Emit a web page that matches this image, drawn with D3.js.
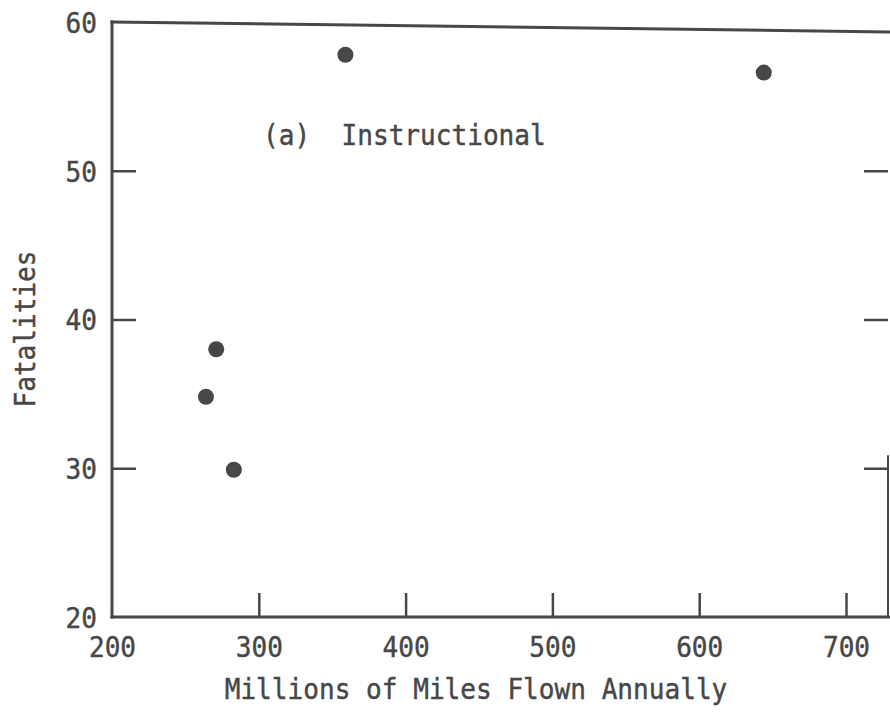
<!DOCTYPE html>
<html>
<head>
<meta charset="utf-8">
<script src="https://cdn.jsdelivr.net/npm/d3@7/dist/d3.min.js"></script>
<style>
  html, body { margin: 0; padding: 0; background: #fff; }
  svg { display: block; }
  text { font-family: "DejaVu Sans Mono", "Liberation Mono", monospace; fill: #474747; stroke: #474747; stroke-width: 0.45px; }
</style>
</head>
<body>
<svg id="chart" width="890" height="712"></svg>
<script>
// Instructional flying: annual miles flown vs. fatalities
const milesFlown = [271, 264, 283, 359, 644];   // millions of miles
const fatalities = [38, 34.8, 29.9, 57.8, 56.6];
const xTicks = [200, 300, 400, 500, 600, 700];
const yTicks = [20, 30, 40, 50, 60];
const panelLabel = "(a)  Instructional";
const xTitle = "Millions of Miles Flown Annually";
const yTitle = "Fatalities";

const ink = "#474747";
const svg = d3.select("#chart");

const x = d3.scaleLinear().domain([200, 700]).range([112, 846]);
const y = d3.scaleLinear().domain([20, 60]).range([617, 22]);
const xRight = 888;

// typewriter-style lettering: tall, slightly condensed
const fontSize = 29;
const squeeze = 0.9;

// frame
const frame = svg.append("g")
  .attr("fill", "none")
  .attr("stroke", ink)
  .attr("stroke-width", 3)
  .attr("stroke-linecap", "square");
frame.append("line")
  .attr("x1", x(200)).attr("y1", y(60))
  .attr("x2", x(200)).attr("y2", y(20));
frame.append("line")
  .attr("x1", x(200)).attr("y1", y(20))
  .attr("x2", xRight + 2).attr("y2", y(20));
frame.append("line")
  .attr("x1", x(200)).attr("y1", y(60))
  .attr("x2", xRight + 2).attr("y2", y(59.33));
frame.append("line")
  .attr("x1", xRight).attr("y1", y(20))
  .attr("x2", xRight).attr("y2", y(30.8))
  .attr("stroke-width", 2);

// bottom axis: inward ticks
const gx = svg.append("g")
  .attr("transform", `translate(0,${y(20)})`)
  .call(d3.axisBottom(x)
    .tickValues(xTicks)
    .tickSizeInner(-24)
    .tickSizeOuter(0)
    .tickFormat(d3.format("d")));
gx.select(".domain").remove();
gx.selectAll(".tick line").attr("stroke", ink).attr("stroke-width", 2.5);
gx.selectAll(".tick").filter(d => d === 200).select("line").remove();
gx.selectAll(".tick text")
  .attr("y", 40)
  .attr("dy", 0)
  .attr("transform", `scale(${squeeze},1)`)
  .attr("font-size", fontSize)
  .attr("font-family", "DejaVu Sans Mono")
  .attr("fill", ink);

// left axis: inward ticks
const gy = svg.append("g")
  .attr("transform", `translate(${x(200)},0)`)
  .call(d3.axisLeft(y)
    .tickValues(yTicks)
    .tickSizeInner(-24)
    .tickSizeOuter(0)
    .tickFormat(d3.format("d")));
gy.select(".domain").remove();
gy.selectAll(".tick line").attr("stroke", ink).attr("stroke-width", 2.5);
gy.selectAll(".tick").filter(d => d === 20 || d === 60).select("line").remove();
gy.selectAll(".tick text")
  .attr("x", -15 / squeeze)
  .attr("dy", "0.36em")
  .attr("transform", `scale(${squeeze},1)`)
  .attr("font-size", fontSize)
  .attr("font-family", "DejaVu Sans Mono")
  .attr("fill", ink);

// right axis: ticks only
const gr = svg.append("g")
  .attr("transform", `translate(${xRight},0)`)
  .call(d3.axisRight(y)
    .tickValues([30, 40, 50])
    .tickSizeInner(-24)
    .tickSizeOuter(0)
    .tickFormat(""));
gr.select(".domain").remove();
gr.selectAll(".tick line").attr("stroke", ink).attr("stroke-width", 2.5);

// data points
svg.append("g")
  .selectAll("circle")
  .data(milesFlown.map((m, i) => ({ m, f: fatalities[i] })))
  .join("circle")
  .attr("cx", d => x(d.m))
  .attr("cy", d => y(d.f))
  .attr("r", 8)
  .attr("fill", ink);

// panel label
svg.append("text")
  .attr("transform", `translate(263,145) scale(${squeeze},1)`)
  .attr("font-size", fontSize)
  .attr("xml:space", "preserve")
  .style("white-space", "pre")
  .text(panelLabel);

// axis titles
svg.append("text")
  .attr("transform", `translate(476,699) scale(${squeeze},1)`)
  .attr("text-anchor", "middle")
  .attr("font-size", fontSize)
  .text(xTitle);

svg.append("text")
  .attr("transform", `translate(35,329) rotate(-90) scale(${squeeze},1)`)
  .attr("text-anchor", "middle")
  .attr("font-size", fontSize)
  .text(yTitle);
</script>
</body>
</html>
